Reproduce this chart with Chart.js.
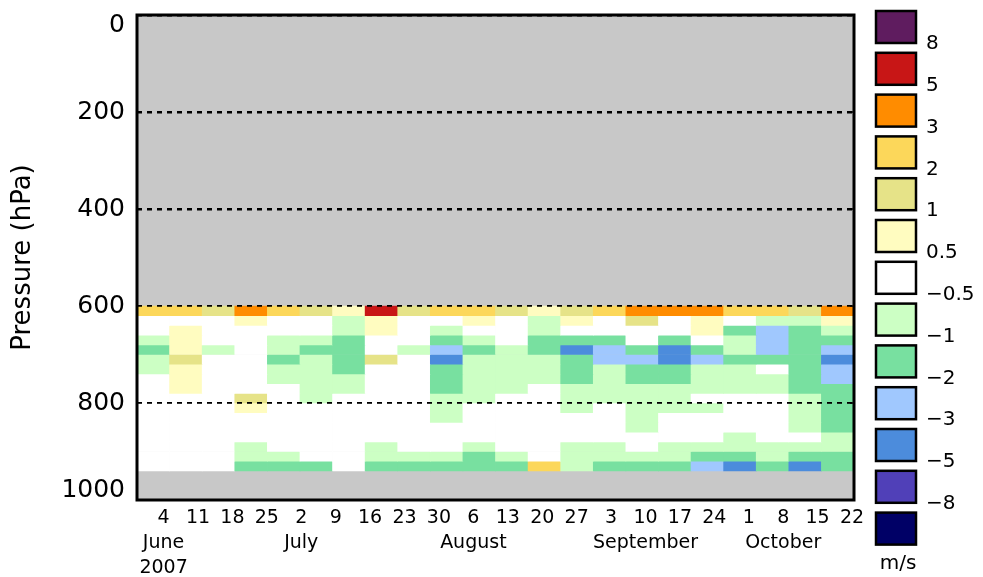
<!DOCTYPE html>
<html>
<head>
<meta charset="utf-8">
<script src="https://cdn.jsdelivr.net/npm/chart.js@4/dist/chart.umd.min.js"></script>
<style>
  html, body { margin: 0; padding: 0; background: #ffffff; }
  canvas { display: block; }
</style>
</head>
<body>
<canvas id="c" width="983" height="577"></canvas>
<script>
// Upper edge (hPa) of each 20 hPa layer, from 600 hPa down to 920 hPa
const layerTops = [600, 620, 640, 660, 680, 700, 720, 740, 760, 780, 800, 820, 840, 860, 880, 900, 920];
const layerDepth = 20;

// One entry per time bin of the wind profile record
const profiles = ['01', '02', '03', '04', '05', '06', '07', '08', '09', '10', '11',
                  '12', '13', '14', '15', '16', '17', '18', '19', '20', '21', '22'];

// Wind anomaly (m/s) per time bin, listed from the 600 hPa layer downwards
const anomaly = [
  [2.4, 0.0, 0.0, -0.7, -1.4, -0.8, -0.6, 0.0, 0.0, 0.0, 0.0, 0.0, 0.0, 0.0, 0.0, 0.0, 0.0],
  [2.5, 0.2, 0.7, 0.8, 0.7, 1.3, 0.7, 0.6, 0.6, 0.1, 0.0, 0.0, 0.0, 0.0, 0.0, 0.0, 0.0],
  [1.3, 0.1, 0.0, 0.0, -0.6, 0.0, 0.0, 0.0, 0.0, 0.0, 0.0, 0.0, 0.0, 0.0, 0.0, 0.0, 0.0],
  [3.6, 0.7, 0.2, 0.0, 0.0, 0.0, 0.0, 0.0, 0.3, 1.2, 0.6, 0.1, 0.0, 0.0, -0.6, -0.7, -1.3],
  [2.3, 0.1, 0.0, -0.6, -0.8, -1.3, -0.7, -0.6, 0.0, 0.0, 0.0, 0.0, 0.0, 0.0, 0.0, -0.6, -1.2],
  [1.4, 0.2, 0.0, -0.7, -1.3, -0.9, -0.8, -0.7, -0.6, -0.6, 0.0, 0.0, 0.0, 0.0, 0.0, 0.0, -1.2],
  [0.7, -0.6, -0.8, -1.4, -1.6, -1.5, -1.2, -0.8, -0.6, 0.0, 0.0, 0.0, 0.0, 0.0, 0.0, 0.0, 0.0],
  [5.6, 0.8, 0.6, 0.0, 0.2, 1.2, 0.1, 0.0, 0.0, 0.0, 0.0, 0.0, 0.0, 0.0, -0.6, -0.8, -1.3],
  [1.3, 0.2, 0.0, 0.0, -0.6, 0.0, 0.0, 0.0, 0.0, 0.0, 0.0, 0.0, 0.0, 0.0, 0.0, -0.7, -1.2],
  [2.2, 0.0, -0.8, -1.6, -2.4, -3.4, -1.8, -1.5, -1.2, -0.9, -0.7, -0.6, 0.0, 0.0, 0.0, -0.7, -1.3],
  [2.3, 0.6, 0.1, -0.7, -1.3, -0.9, -0.8, -0.8, -0.7, -0.6, 0.0, 0.0, 0.0, 0.0, -0.7, -1.1, -1.4],
  [1.5, 0.1, 0.0, -0.3, -0.7, -0.8, -0.9, -0.8, -0.6, 0.0, 0.0, 0.0, 0.0, 0.0, 0.0, -0.7, -1.3],
  [0.6, -0.6, -0.8, -1.2, -1.3, -0.9, -0.8, -0.6, 0.0, 0.0, 0.0, 0.0, 0.0, 0.0, 0.0, 0.3, 2.2],
  [1.2, 0.6, 0.0, -1.5, -3.3, -1.9, -1.6, -1.2, -0.9, -0.8, -0.6, 0.0, 0.0, 0.0, -0.6, -0.7, -0.8],
  [2.3, 0.2, 0.0, -1.2, -2.2, -2.3, -0.9, -0.8, -0.7, -0.6, 0.0, 0.0, 0.0, 0.0, -0.6, -0.8, -1.3],
  [3.4, 1.1, 0.3, 0.0, -1.2, -2.1, -1.6, -1.3, -0.9, -0.8, -0.7, -0.6, -0.6, 0.0, 0.0, -0.7, -1.2],
  [3.7, 0.4, 0.0, -1.3, -3.2, -3.5, -1.7, -1.2, -0.9, -0.7, -0.6, 0.0, 0.0, 0.0, -0.6, -0.9, -1.3],
  [3.3, 0.7, 0.6, 0.1, -1.2, -2.2, -0.9, -0.8, -0.7, 0.0, -0.6, 0.0, 0.0, 0.0, -0.7, -1.2, -2.3],
  [2.1, 0.1, -1.1, -0.9, -0.8, -1.5, -0.9, -0.7, -0.6, 0.0, 0.0, 0.0, 0.0, -0.6, -0.8, -1.2, -3.2],
  [2.2, -0.6, -2.3, -2.6, -2.2, -1.4, -0.2, -0.6, -0.7, 0.0, 0.0, 0.0, 0.0, 0.0, -0.6, -0.8, -1.2],
  [1.6, -0.8, -1.2, -1.7, -1.5, -1.6, -1.4, -1.3, -1.1, -0.9, -0.8, -0.7, -0.6, 0.0, -0.7, -1.2, -3.3],
  [3.2, 0.6, -0.9, -1.6, -2.4, -3.6, -2.6, -2.2, -1.8, -1.6, -1.5, -1.4, -1.2, -0.9, -0.8, -1.1, -1.3]
];

// Weekly date ticks and the month names written beneath some of them
const tickDates = ['2007-06-04', '2007-06-11', '2007-06-18', '2007-06-25', '2007-07-02', '2007-07-09',
                   '2007-07-16', '2007-07-23', '2007-07-30', '2007-08-06', '2007-08-13', '2007-08-20',
                   '2007-08-27', '2007-09-03', '2007-09-10', '2007-09-17', '2007-09-24', '2007-10-01',
                   '2007-10-08', '2007-10-15', '2007-10-22'];
const monthLines = [['June', '2007'], [], [], [], ['July'], [], [], [], [], ['August'], [], [], [],
                    [], ['September'], [], [], [], ['October'], [], []];

// Pressure axis ticks (hPa)
const pressureTicks = [0, 200, 400, 600, 800, 1000];

// Colour classes: boundaries (m/s) and colours from strongest positive to strongest negative
const colorBounds = [8, 5, 3, 2, 1, 0.5, -0.5, -1, -2, -3, -5, -8];
const colorList = ['#5f1c5f', '#c81616', '#ff8c00', '#fcd75a', '#e6e388', '#fffcc0', '#ffffff',
                   '#ccffc4', '#78e0a0', '#a0c8fe', '#4c8cdc', '#5040b8', '#000066'];
const unitLabel = 'm/s';

const FONT = '"DejaVu Sans", "Liberation Sans", Arial, sans-serif';
const startDay = Date.parse('2007-06-01');
const dayOf = s => (Date.parse(s) - startDay) / 864e5;
const tickDays = tickDates.map(dayOf);
const tickLabels = tickDates.map((s, i) => [String(new Date(s).getUTCDate())].concat(monthLines[i]));

function colorFor(v) {
  let i = colorBounds.findIndex(b => v >= b);
  if (i < 0) i = colorBounds.length;
  return colorList[i];
}

const datasets = layerTops.map((top, r) => ({
  data: profiles.map(() => [top, top + layerDepth]),
  backgroundColor: profiles.map((_, k) => colorFor(anomaly[k][r])),
  borderWidth: 0,
  grouped: false,
  barPercentage: 1,
  categoryPercentage: 1,
  xAxisID: 'x',
  yAxisID: 'y'
}));

const fmt = v => (v < 0 ? '\u2212' + Math.abs(v) : String(v));

const plotBackground = {
  id: 'plotBackground',
  beforeDraw(chart) {
    const { ctx, chartArea: a } = chart;
    ctx.save();
    ctx.fillStyle = '#c8c8c8';
    ctx.fillRect(a.left, a.top, a.right - a.left, a.bottom - a.top);
    ctx.restore();
  }
};

const frameAndLabels = {
  id: 'frameAndLabels',
  afterDraw(chart) {
    const { ctx, chartArea: a } = chart;
    const y = chart.scales.y;
    ctx.save();
    // frame
    ctx.strokeStyle = '#000';
    ctx.lineWidth = 3;
    ctx.strokeRect(a.left, a.top, a.right - a.left, a.bottom - a.top);
    // inner tick marks on the right edge
    ctx.lineWidth = 1.5;
    pressureTicks.slice(1, -1).forEach(p => {
      const py = y.getPixelForValue(p);
      ctx.beginPath();
      ctx.moveTo(a.right - 4, py);
      ctx.lineTo(a.right, py);
      ctx.stroke();
    });
    // pressure labels, kept inside the frame at both ends
    ctx.fillStyle = '#000';
    ctx.font = '25px ' + FONT;
    ctx.textAlign = 'right';
    ctx.textBaseline = 'middle';
    pressureTicks.forEach(p => {
      const py = Math.min(Math.max(y.getPixelForValue(p), a.top + 10), a.bottom - 10);
      ctx.fillText(String(p), a.left - 12, py);
    });
    ctx.restore();
  }
};

const colorKey = {
  id: 'colorKey',
  afterDraw(chart) {
    const { ctx } = chart;
    const x0 = 876, top0 = 11, step = 41.8, w = 40, h = 32;
    ctx.save();
    colorList.forEach((c, i) => {
      const ty = top0 + step * i;
      ctx.fillStyle = c;
      ctx.fillRect(x0, ty, w, h);
      ctx.strokeStyle = '#000';
      ctx.lineWidth = 2.5;
      ctx.strokeRect(x0, ty, w, h);
    });
    ctx.fillStyle = '#000';
    ctx.font = '20px ' + FONT;
    ctx.textAlign = 'left';
    ctx.textBaseline = 'middle';
    colorBounds.forEach((b, i) => {
      ctx.fillText(fmt(b), 926, top0 + h + 1 + step * i);
    });
    ctx.textAlign = 'center';
    ctx.fillText(unitLabel, x0 + w / 2 + 2, top0 + step * 12 + h + 19);
    ctx.restore();
  }
};

new Chart(document.getElementById('c'), {
  type: 'bar',
  data: { labels: profiles, datasets },
  options: {
    responsive: false,
    animation: false,
    events: [],
    layout: { padding: { top: 15, right: 129, left: 0, bottom: 0 } },
    plugins: { legend: { display: false }, tooltip: { enabled: false } },
    scales: {
      x: { type: 'category', display: false, offset: true },
      xDate: {
        type: 'linear',
        position: 'bottom',
        offset: false,
        // days since 1 June 2007
        min: -2.4,
        max: 143.4,
        afterBuildTicks: s => { s.ticks = tickDays.map(v => ({ value: v })); },
        afterFit: s => { s.height = 77; },
        grid: { display: false, drawTicks: false, offset: false },
        border: { display: false },
        ticks: {
          autoSkip: false,
          maxRotation: 0,
          minRotation: 0,
          padding: 6,
          color: '#000',
          font: { family: FONT, size: 19, lineHeight: 1.316 },
          callback: (v, i) => tickLabels[i]
        }
      },
      y: {
        type: 'linear',
        reverse: true,
        min: 0,
        max: 1000,
        afterBuildTicks: s => { s.ticks = pressureTicks.map(v => ({ value: v })); },
        afterFit: s => { s.width = 137; },
        ticks: { display: false },
        grid: {
          color: '#000',
          lineWidth: c => (c.tick && c.tick.value < 500 ? 2.5 : 1.8),
          drawTicks: false,
          z: 1
        },
        border: { display: false, dash: [5, 5] },
        title: {
          display: true,
          text: 'Pressure (hPa)',
          color: '#000',
          font: { family: FONT, size: 26 },
          padding: { top: 8, bottom: 0 }
        }
      }
    }
  },
  plugins: [plotBackground, frameAndLabels, colorKey]
});
</script>
</body>
</html>
